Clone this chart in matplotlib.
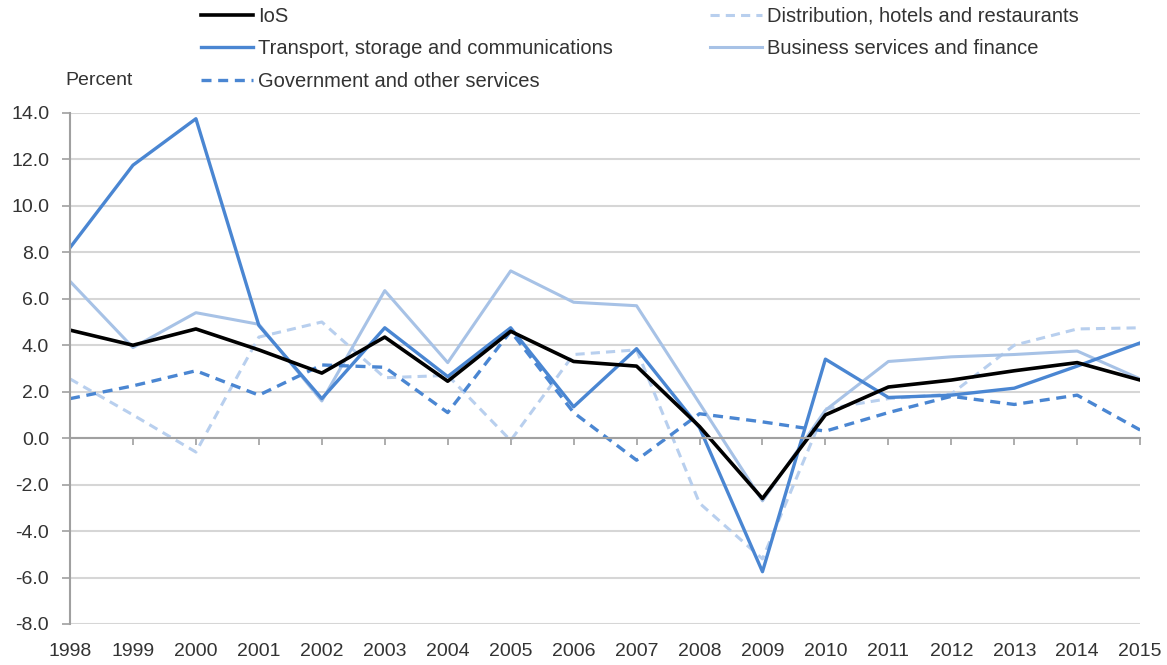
import numpy as np
import matplotlib
matplotlib.use("Agg")
import matplotlib.pyplot as plt

plt.rcParams['font.family'] = ['Liberation Sans', 'DejaVu Sans']

years = list(range(1998, 2016))

ios = [4.65, 4.0, 4.7, 3.8, 2.8, 4.35, 2.45, 4.6, 3.3, 3.1, 0.5, -2.6,
       1.0, 2.2, 2.5, 2.9, 3.25, 2.5]
transport = [8.2, 11.75, 13.75, 4.85, 1.7, 4.75, 2.65, 4.75, 1.35, 3.85, 0.45, -5.75,
             3.4, 1.75, 1.85, 2.15, 3.1, 4.1]
government = [1.7, 2.25, 2.9, 1.85, 3.15, 3.05, 1.1, 4.6, 1.1, -0.95, 1.05, 0.7,
              0.3, 1.1, 1.8, 1.45, 1.85, 0.35]
distribution = [2.55, 1.0, -0.6, 4.35, 5.0, 2.6, 2.7, -0.1, 3.6, 3.8, -2.8, -5.2,
                1.25, 1.7, 1.9, 4.0, 4.7, 4.75]
business = [6.75, 3.9, 5.4, 4.9, 1.6, 6.35, 3.25, 7.2, 5.85, 5.7, 1.5, -2.7,
            1.2, 3.3, 3.5, 3.6, 3.75, 2.55]

labels = ['IoS', 'Transport, storage and communications', 'Government and other services',
          'Distribution, hotels and restaurants', 'Business services and finance']

mid_blue = '#4A86D2'
light_blue = '#B8CFEE'
pale_blue = '#A7C2E6'
grid_col = '#D6D6D6'
text_col = '#333333'
fs = 14

fig = plt.figure(figsize=(11.67, 6.65), dpi=100)
ax = fig.add_axes([0.06, 0.0617, 0.917, 0.7685])

l4, = ax.plot(years, distribution, color=light_blue, lw=2.2, ls=(0, (3, 2)))
l5, = ax.plot(years, business, color=pale_blue, lw=2.2)
l3, = ax.plot(years, government, color=mid_blue, lw=2.4, ls=(0, (3, 2)))
l2, = ax.plot(years, transport, color=mid_blue, lw=2.4)
l1, = ax.plot(years, ios, color='black', lw=2.6)

ax.set_xlim(years[0], years[-1])
ax.set_ylim(-8, 14)
yt = np.arange(-8, 14.1, 2)
ax.set_yticks(yt)
ax.set_yticklabels([f'{v:.1f}' for v in yt])
ax.yaxis.grid(True, color=grid_col, lw=1.5)
ax.set_axisbelow(True)

for s in ['top', 'right']:
    ax.spines[s].set_visible(False)
ax.spines['left'].set_color('#A0A0A0')
ax.spines['left'].set_linewidth(1.5)
ax.spines['bottom'].set_position(('data', 0))
ax.spines['bottom'].set_color('#A0A0A0')
ax.spines['bottom'].set_linewidth(1.5)

ax.set_xticks(years)
ax.tick_params(axis='x', direction='out', length=5, width=1.2, color='#A0A0A0',
               labelbottom=False)
ax.tick_params(axis='y', direction='out', length=6, width=1.2, color='#A0A0A0',
               labelsize=fs, labelcolor=text_col, pad=9)

sec = ax.secondary_xaxis(0.0)
sec.set_xticks(years)
sec.set_xticklabels([str(y) for y in years])
sec.tick_params(length=0, labelsize=fs, labelcolor=text_col, pad=14)
sec.spines['bottom'].set_visible(False)

fig.text(0.056, 0.872, 'Percent', fontsize=fs, color=text_col)

leg_kw = dict(loc='upper left', frameon=False, fontsize=14.5, handlelength=2.6,
              handletextpad=0.25, labelspacing=0.68, borderpad=0, borderaxespad=0,
              labelcolor=text_col)
fig.legend([l1, l2, l3], labels[:3], bbox_to_anchor=(0.172, 0.99), **leg_kw)
fig.legend([l4, l5], labels[3:], bbox_to_anchor=(0.608, 0.99), **leg_kw)

fig.savefig('out.png', dpi=100)
